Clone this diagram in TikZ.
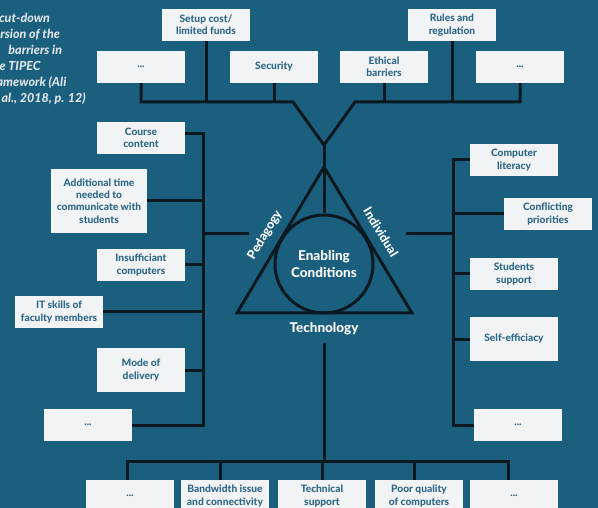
\documentclass[tikz,border=0pt]{standalone}
\usepackage{fontspec}
\setmainfont{Lato}[BoldFont={Lato Heavy},BoldItalicFont={Lato Heavy Italic}]
\usepackage{tikz}
\definecolor{bgblue}{HTML}{1B5F7F}
\definecolor{boxgray}{HTML}{F2F3F5}
\definecolor{boxtext}{HTML}{2C6788}
\definecolor{linedark}{HTML}{0A1920}
\definecolor{titlegray}{HTML}{DCE3E8}

\begin{document}
\begin{tikzpicture}[x=1pt,y=-1pt,
	box/.style={fill=boxgray,text=boxtext,font=\fontsize{10.2}{12.3}\selectfont\bfseries,align=center,minimum width=88pt,minimum height=32pt,inner sep=1pt},
	link/.style={draw=linedark,line width=3pt},
	core/.style={text=white,font=\fontsize{13.5}{17}\selectfont\bfseries,align=center}
	]
		\fill[bgblue] (0,0) rectangle (598,508);
		\useasboundingbox (0,0) rectangle (598,508);
		\node[anchor=north west,inner sep=0,align=left,text=titlegray,font=\fontsize{12.5}{16}\selectfont\bfseries\itshape] (title) at (-12,13) {A cut-down\\version of the\\\phantom{the} barriers in\\the TIPEC\\framework (Ali\\et al., 2018, p. 12)};
		\node[box] (setup) at (206,25) {Setup cost/\\limited funds};
		\node[box] (dotsTL) at (141,67) {...};
		\node[box] (security) at (274,67) {Security};
		\node[box] (ethical) at (384,67) {Ethical\\barriers};
		\node[box] (rules) at (452,25) {Rules and\\regulation};
		\node[box] (dotsTR) at (520,67) {...};
		\node[box] (course) at (141,138) {Course\\content};
		\node[box,minimum width=96pt,minimum height=64pt] (addtime) at (99,201) {Additional time\\needed to\\communicate with\\students};
		\node[box] (insuff) at (141,265) {Insufficiant\\computers};
		\node[box] (itskills) at (59,312) {IT skills of\\faculty members};
		\node[box,minimum height=44pt] (mode) at (141,370) {Mode of\\delivery};
		\node[box] (dotsL) at (88,425) {...};
		\node[box] (complit) at (514,160) {Computer\\literacy};
		\node[box] (conflict) at (548,214) {Conflicting\\priorities};
		\node[box] (students) at (514,274) {Students\\support};
		\node[box,minimum height=44pt] (selfeff) at (514,339) {Self-efficiacy};
		\node[box] (dotsR) at (518,425) {...};
		\node[box] (dotsBL) at (130,496) {...};
		\node[box] (bandwidth) at (225,496) {Bandwidth issue\\and connectivity};
		\node[box] (techsup) at (322,496) {Technical\\support};
		\node[box] (poor) at (419,496) {Poor quality\\of computers};
		\node[box] (dotsBR) at (514,496) {...};
		\coordinate (apex) at (324,167);
		\coordinate (baseL) at (237,313);
		\coordinate (baseR) at (412,313);
		\draw[link] (apex) -- (baseL) -- (baseR) -- cycle;
		\node[core,circle,link,minimum size=98pt,inner sep=0] (ec) at (324,264) {Enabling\\Conditions};
		\node[core,font=\fontsize{12.5}{15}\selectfont\bfseries,rotate=59] (ped) at (265,235) {Pedagogy};
		\node[core,font=\fontsize{12.5}{15}\selectfont\bfseries,rotate=-59] (indiv) at (381,232) {Individual};
		\node[core] (tech) at (324,329) {Technology};
		\coordinate (yjoin) at (324,145);
		\coordinate (barL) at (293,102);
		\coordinate (barR) at (355,102);
		\draw[link] (dotsTL.south) |- (barL) -- (yjoin) -- (barR) -| (dotsTR.south);
		\foreach \n in {setup,security} \draw[link] (\n.south) -- (\n.south |- barL);
		\foreach \n in {ethical,rules} \draw[link] (\n.south) -- (\n.south |- barR);
		\draw[link] (yjoin) -- (apex) -- (ec.north);
		\coordinate (lspine) at (203,234);
		\coordinate (lend) at (249,234);
		\draw[link] ([yshift=4pt]course.east) -| (dotsL.east -| lspine) -- (dotsL.east);
		\foreach \n in {addtime,insuff,itskills,mode} \draw[link] (\n.east) -- (\n.east -| lspine);
		\draw[link] (lspine) -- (lend);
		\coordinate (rspine) at (453,234);
		\coordinate (rend) at (406,234);
		\draw[link] (complit.west) -| (dotsR.west -| rspine) -- (dotsR.west);
		\foreach \n in {conflict,students,selfeff} \draw[link] (\n.west) -- (\n.west -| rspine);
		\draw[link] (rspine) -- (rend);
		\coordinate (bstart) at (324,343);
		\coordinate (bspine) at (324,461);
		\draw[link] (bstart) -- (bspine);
		\draw[link] ([xshift=-3pt]dotsBL.north) |- (bspine) -| ([xshift=-6pt]dotsBR.north);
		\foreach \n in {bandwidth,poor} \draw[link] ([xshift=-5pt]\n.north) -- ([xshift=-5pt]\n.north |- bspine);
		\draw[link] (techsup.north) -- (techsup.north |- bspine);
		\end{tikzpicture}
\end{document}
